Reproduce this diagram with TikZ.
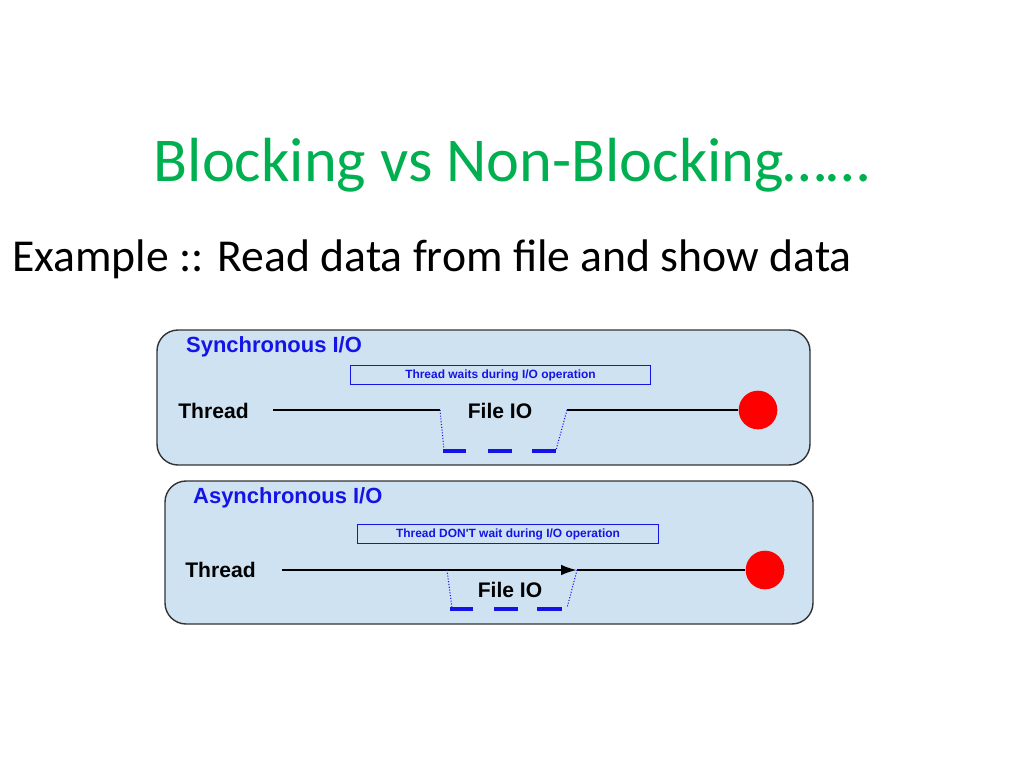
\documentclass[tikz,border=0pt]{standalone}
\usepackage{fontspec}
\setmainfont{Carlito}
\newfontfamily\diagfont{Liberation Sans}
\usetikzlibrary{arrows, arrows.meta}
\definecolor{titlegreen}{RGB}{0,176,80}
\definecolor{panelblue}{RGB}{206,226,242}
\definecolor{iblue}{RGB}{20,20,230}
\tikzset{
  panel/.style={draw=black!80, thick, fill=panelblue, rounded corners=12pt},
  head/.style={anchor=west, text=iblue, font=\diagfont\bfseries\fontsize{12.5}{14}\selectfont},
  note/.style={draw=iblue, text=iblue, minimum width=171pt, minimum height=10.5pt, inner sep=0pt, font=\diagfont\bfseries\fontsize{6.8}{7}\selectfont},
  label/.style={font=\diagfont\bfseries\fontsize{12}{14}\selectfont, inner sep=0pt},
  io/.style={iblue, line width=2.3pt},
  link/.style={iblue, densely dotted, semithick}
}
\begin{document}
\begin{tikzpicture}[x=0.02cm, y=-0.02cm]
\useasboundingbox (0,0) rectangle (1024,768);
%\draw[step=50, gray, very thin] (0,0) grid (1024,768); %background grid
\node[text=titlegreen, font=\fontsize{35.5}{40}\selectfont] (title) at (512,165) {Blocking vs Non-Blocking\dots\dots};
\node[anchor=west, font=\fontsize{26}{30}\selectfont, inner sep=0pt] (example) at (12,259) {Example :: Read data from file and show data};
% synchronous
\draw[panel] (157,330) rectangle (810,465);
\node[head] (synchead) at (180,347) {Synchronous I/O};
\node[note] (syncnote) at (500.5,375) {Thread waits during I/O operation};
\node[label, anchor=west] (syncthread) at (178,411) {Thread};
\node[label] (syncio) at (500,411) {File IO};
\node[circle, fill=red, minimum size=22pt, inner sep=0pt] (syncend) at (758,410) {};
\coordinate (sa) at (273,410); \coordinate (sb) at (440,410); %left line
\coordinate (sc) at (567,410); %right line
\draw[semithick] (sa) -- (sb);
\draw[semithick] (sc) -- (syncend);
\draw[link] (sb) -- (444,450);
\draw[link] (sc) -- (556,450);
\draw[io] (443,451) -- (466,451); \draw[io] (488,451) -- (512,451); \draw[io] (532,451) -- (556,451);
% asynchronous
\draw[panel] (165,481) rectangle (813,624);
\node[head] (asynchead) at (187,498) {Asynchronous I/O};
\node[note] (asyncnote) at (508,534) {Thread DON'T wait during I/O operation};
\node[label, anchor=west] (asyncthread) at (185,570) {Thread};
\node[label] (asyncio) at (510,590) {File IO};
\node[circle, fill=red, minimum size=22pt, inner sep=0pt] (asyncend) at (765,570) {};
\coordinate (aa) at (282,570); \coordinate (ab) at (447,570); \coordinate (ac) at (577,570);
\draw[semithick] (aa) -- (ab);
\draw[very thick, -{Latex[length=9pt,width=6pt]}] (ab) -- (ac);
\draw[semithick] (ac) -- (asyncend);
\draw[link] (ab) -- (452,608);
\draw[link] (ac) -- (567,608);
\draw[io] (450,609) -- (473,609); \draw[io] (494,609) -- (518,609); \draw[io] (537,609) -- (562,609);
\end{tikzpicture}
\end{document}
